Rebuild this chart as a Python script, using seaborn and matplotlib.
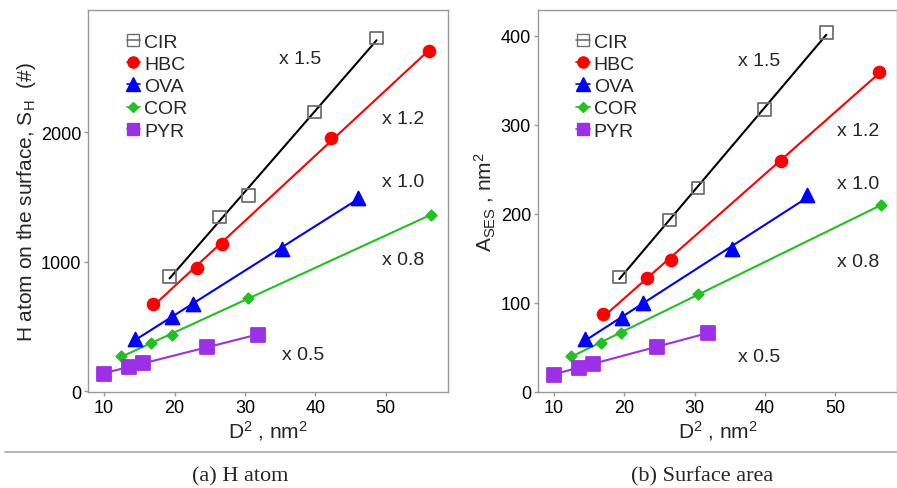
import numpy as np
import matplotlib
matplotlib.use("Agg")
import matplotlib.pyplot as plt
import seaborn as sns
from matplotlib.lines import Line2D

# D^2 (nm^2) for each molecule family
x_cir = [19.3, 26.4, 30.5, 39.9, 48.7]
x_hbc = [17.0, 23.2, 26.7, 42.2, 56.2]
x_ova = [14.4, 19.7, 22.6, 35.3, 46.0]
x_cor = [12.4, 16.7, 19.6, 30.5, 56.5]
x_pyr = [10.0, 13.5, 15.5, 24.6, 31.9]

# (a) number of H atoms on the surface
h_cir = [886, 1346, 1511, 2154, 2727]
h_hbc = [675, 953, 1138, 1954, 2625]
h_ova = [405, 573, 675, 1100, 1491]
h_cor = [269, 374, 436, 721, 1364]
h_pyr = [135, 191, 218, 341, 438]

# (b) surface area A_SES, nm^2
a_cir = [129, 192.7, 228.7, 317, 403.6]
a_hbc = [87, 127.5, 148, 259.3, 359.3]
a_ova = [59, 83.3, 99.4, 160, 220.8]
a_cor = [40.2, 55.3, 65.7, 109.5, 210]
a_pyr = [19, 27.2, 31.7, 50.8, 65.7]

names = ["CIR", "HBC", "OVA", "COR", "PYR"]
slopes = ["x 1.5", "x 1.2", "x 1.0", "x 0.8", "x 0.5"]

sns.set_style("white")
plt.rcParams["font.family"] = ["Liberation Sans", "DejaVu Sans"]
plt.rcParams["mathtext.default"] = "regular"

# marker, size, face, edge, line colour
styles = {
    "CIR": dict(marker="s", s=80, fc="none", ec="#707070", lc="black"),
    "HBC": dict(marker="o", s=72, fc="#ff0000", ec="#ff0000", lc="#ff0000"),
    "OVA": dict(marker="^", s=100, fc="#0000ff", ec="#0000ff", lc="#0000ff"),
    "COR": dict(marker="D", s=28, fc="#22c022", ec="#22c022", lc="#22c022"),
    "PYR": dict(marker="s", s=88, fc="#9b30e8", ec="#9b30e8", lc="#9b30e8"),
}

xs = [x_cir, x_hbc, x_ova, x_cor, x_pyr]
ys_h = [h_cir, h_hbc, h_ova, h_cor, h_pyr]
ys_a = [a_cir, a_hbc, a_ova, a_cor, a_pyr]

fig = plt.figure(figsize=(8.97, 4.89), dpi=100)
ax1 = fig.add_axes([0.0984, 0.1969, 0.4007, 0.7806])
ax2 = fig.add_axes([0.5998, 0.1969, 0.4007, 0.7806])


def draw(ax, ys):
    for name, x, y in zip(names, xs, ys):
        st = styles[name]
        sns.regplot(x=np.array(x), y=np.array(y), ax=ax, ci=None, truncate=True,
                    marker=st["marker"],
                    scatter_kws=dict(s=st["s"], facecolors=st["fc"], edgecolors=st["ec"],
                                     linewidths=1.3, alpha=1, zorder=3),
                    line_kws=dict(color=st["lc"], lw=1.5, zorder=2))
    ax.set_xlim(7.75, 58.8)
    ax.set_xticks([10, 20, 30, 40, 50])
    for sp in ax.spines.values():
        sp.set_color("#999999")
        sp.set_linewidth(1.0)
    ax.tick_params(axis="both", which="both", direction="out", length=3, width=1,
                   color="#999999", labelsize=13, labelcolor="black", pad=2,
                   bottom=True, left=True)
    ax.set_xlabel("D$^2$ , nm$^2$", fontsize=15, labelpad=2)

    handles = []
    for name in names:
        st = styles[name]
        handles.append(Line2D([], [], color=st["lc"] if name != "CIR" else "#707070",
                              lw=1.2, marker=st["marker"],
                              markersize=np.sqrt(st["s"]) * 0.95,
                              markerfacecolor=st["fc"], markeredgecolor=st["ec"]))
    ax.legend(handles, names, loc="upper left", bbox_to_anchor=(0.085, 0.96),
              frameon=False, fontsize=14, handlelength=0.7, handletextpad=0.2,
              labelspacing=0.24, borderaxespad=0)


draw(ax1, ys_h)
ax1.set_ylim(-3, 2942)
ax1.set_yticks([0, 1000, 2000])
ax1.set_ylabel("H atom on the surface, S$_{H}$  (#)", fontsize=15, labelpad=2)
for txt, tx, ty in zip(slopes, [37.9, 52.4, 52.4, 52.4, 38.2], [2566, 2102, 1617, 1017, 282]):
    ax1.text(tx, ty, txt, fontsize=14, ha="center", va="center")

draw(ax2, ys_a)
ax2.set_ylim(0, 429)
ax2.set_yticks([0, 100, 200, 300, 400])
ax2.set_ylabel("A$_{SES}$ , nm$^2$", fontsize=15, labelpad=2)
for txt, tx, ty in zip(slopes, [39.2, 53.2, 53.2, 53.2, 39.2], [372, 294, 234, 146, 40]):
    ax2.text(tx, ty, txt, fontsize=14, ha="center", va="center")

fig.add_artist(Line2D([0.006, 1.0], [0.0736, 0.0736], color="#aaaaaa", lw=1.2))
fig.text(0.2676, 0.0245, "(a) H atom", fontsize=16, family="Liberation Serif",
         ha="center", va="center")
fig.text(0.7826, 0.0245, "(b) Surface area", fontsize=16, family="Liberation Serif",
         ha="center", va="center")

fig.savefig("out.png", dpi=100)
